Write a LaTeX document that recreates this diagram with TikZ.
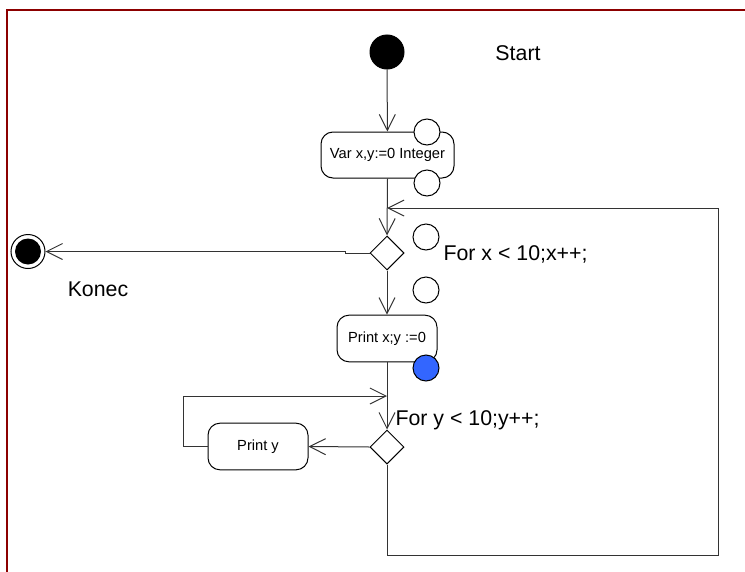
\documentclass[tikz,border=0pt]{standalone}
\usepackage{fontspec}
\setmainfont{Liberation Sans}
\usetikzlibrary{arrows.meta,positioning,shapes.geometric}
\definecolor{framered}{rgb}{0.55,0.0,0.0}
\definecolor{pinblue}{rgb}{0.2,0.4,1.0}
\begin{document}
\begin{tikzpicture}[x=0.75pt,y=-0.75pt,line width=0.75pt,
  actbox/.style={draw,rounded corners=9pt,align=center,font=\fontsize{11}{13}\selectfont,minimum width=75pt,minimum height=35pt,inner sep=0pt},
  dec/.style={draw,diamond,minimum size=25.5pt,inner sep=0pt},
  port/.style={draw,circle,fill=white,minimum size=19.5pt,inner sep=0pt},
  lbl/.style={font=\fontsize{16}{19}\selectfont,inner sep=0pt},
  a/.style={-{Straight Barb[length=12pt,width=12pt]},black!80}]
\useasboundingbox (0,0) rectangle (745,571);
\draw[framered,line width=1.5pt] (7,580)--(7,10)--(755,10);
\node[draw,circle,fill=black,minimum size=25.5pt,inner sep=0pt] (st) at (387,52) {};
\node[lbl] (stl) at (518,53) {Start};
\node[actbox,minimum width=99.75pt,minimum height=34.5pt] (var) at (387.5,155) {Var x,y:=0 Integer};
\node[port] (p1) at (427,132) {};\node[port] (p2) at (427,183) {};
\node[dec] (d1) at (387,253) {};
\node[port] (p3) at (426,237) {};\node[port] (p4) at (426,290) {};
\node[lbl,anchor=west] (fx) at (443,254) {For x < 10;x++;};
\node[draw,circle,minimum size=25.5pt,inner sep=0pt] (en) at (28,251.5) {};
\node[circle,fill=black,minimum size=19.5pt,inner sep=0pt] at (en) {};
\node[lbl] (kl) at (98,289) {Konec};
\node[actbox] (px) at (387,338.5) {Print x;y :=0};
\node[port,fill=pinblue] (p5) at (426,368) {};
\node[dec] (d2) at (387,447) {};
\node[lbl,anchor=west] (fy) at (395,420) {For y < 10;y++;};
\node[actbox] (py) at (258,446.5) {Print y};
\coordinate (j1) at (387,208);\coordinate (c1) at (718,555);
\coordinate (j2) at (387,396);\coordinate (c2) at (183,446.5);
\coordinate (k1) at (345,251.5);
\draw[a] (st)--(var);\draw[a] (var.south)--(d1.north);
\draw[a] (d1.west)-|(k1)--(en);
\draw[a] (d1.south)--(px.north);\draw[a] (px.south)--(d2.north);
\draw[a] (d2.west)--(py.east);\draw[a] (py.west)--(c2)|-(j2);
\draw[a] (d2.south)|-(c1)|-(j1);
\end{tikzpicture}
\end{document}
